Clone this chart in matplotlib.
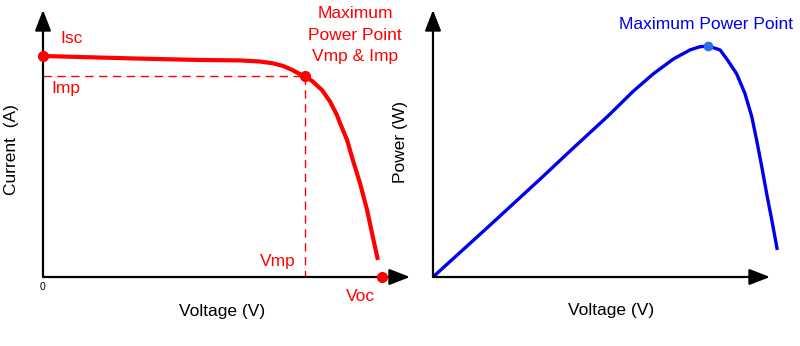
import matplotlib
matplotlib.use("Agg")
import matplotlib.pyplot as plt

plt.rcParams['font.family'] = ['Liberation Sans', 'DejaVu Sans']

# I-V curve (normalised: V/Voc, I/Isc)
iv_voltage = [0.0, 0.265, 0.463, 0.581, 0.640, 0.678, 0.708, 0.735, 0.758, 0.773, 0.796, 0.823,
              0.847, 0.867, 0.876, 0.897, 0.914, 0.935, 0.956, 0.973, 0.988]
iv_current = [1.0, 0.989, 0.982, 0.980, 0.975, 0.967, 0.955, 0.937, 0.918, 0.910, 0.884, 0.846,
              0.793, 0.733, 0.697, 0.620, 0.529, 0.425, 0.303, 0.181, 0.077]
isc_point = (0.0, 1.0)
mpp_point = (0.773, 0.910)
voc_point = (1.0, 0.0)

# P-V curve (normalised)
pv_voltage = [0.0, 0.157, 0.315, 0.397, 0.508, 0.581, 0.639, 0.697, 0.745, 0.774, 0.798, 0.832,
              0.851, 0.880, 0.904, 0.924, 0.938, 0.953, 0.967, 0.982, 0.998]
pv_power = [0.0, 0.213, 0.430, 0.545, 0.698, 0.805, 0.880, 0.944, 0.983, 0.997, 1.0, 0.983,
            0.945, 0.880, 0.795, 0.694, 0.593, 0.477, 0.362, 0.247, 0.117]
pv_mpp = (0.798, 1.0)

RED = '#ff0000'
BLUE = '#0000ee'
W, H = 800, 346
fig = plt.figure(figsize=(8, 3.46), dpi=100)

# ---------- Left panel ----------
axL = fig.add_axes([43 / W, 69 / H, 367 / W, 267 / H])
axL.set_xlim(0, 367 / 339)
axL.set_ylim(0, 267 / 221)
axL.axis('off')
arrow_kw = dict(arrowstyle='-|>,head_length=0.9,head_width=0.35', color='black', lw=1.6,
                shrinkA=0, shrinkB=0, mutation_scale=14)
axL.annotate('', xy=(367 / 339, 0), xytext=(0, 0), arrowprops=arrow_kw, annotation_clip=False)
axL.annotate('', xy=(0, 267 / 221), xytext=(0, 0), arrowprops=arrow_kw, annotation_clip=False)

axL.plot([0, mpp_point[0]], [mpp_point[1], mpp_point[1]], color=RED, lw=1.0,
         dashes=(6, 4), clip_on=False)
axL.plot([mpp_point[0], mpp_point[0]], [mpp_point[1], 0], color=RED, lw=1.0,
         dashes=(6, 4), clip_on=False)
axL.plot(iv_voltage, iv_current, color=RED, lw=3.0, solid_capstyle='butt',
         solid_joinstyle='round', clip_on=False)
axL.plot([isc_point[0], mpp_point[0], voc_point[0]], [isc_point[1], mpp_point[1], voc_point[1]],
         'o', color=RED, ms=7, clip_on=False, zorder=5)

fs = 12.5
axL.text(0.0855, 1.077, 'Isc', color=RED, fontsize=fs, ha='center', va='center')
axL.text(0.068, 0.851, 'Imp', color=RED, fontsize=fs, ha='center', va='center')
axL.text(0.693, 0.068, 'Vmp', color=RED, fontsize=fs, ha='center', va='center')
axL.text(0.938, -0.086, 'Voc', color=RED, fontsize=fs, ha='center', va='center')
axL.text(0.920, 1.095, 'Maximum\nPower Point\nVmp & Imp', color=RED, fontsize=fs,
         ha='center', va='center', linespacing=1.55)
axL.text(0.0, -0.045, '0', color='black', fontsize=7.5, ha='center', va='center')
axL.text(0.528, -0.154, 'Voltage (V)', color='black', fontsize=fs, ha='center', va='center')

fig.text(12 / W, 1 - 150 / H, 'Current  (A)', rotation=90, fontsize=fs, ha='center', va='center')
fig.text(400 / W, 1 - 142 / H, 'Power (W)', rotation=90, fontsize=fs, ha='center', va='center')

# ---------- Right panel ----------
axR = fig.add_axes([433 / W, 69 / H, 345 / W, 267 / H])
axR.set_xlim(0, 1)
axR.set_ylim(0, 267 / 231)
axR.axis('off')
axR.annotate('', xy=(337 / 345, 0), xytext=(0, 0), arrowprops=arrow_kw, annotation_clip=False)
axR.annotate('', xy=(0, 267 / 231), xytext=(0, 0), arrowprops=arrow_kw, annotation_clip=False)
axR.plot(pv_voltage, pv_power, color=BLUE, lw=2.4, solid_capstyle='butt',
         solid_joinstyle='round', clip_on=False)
axR.plot([pv_mpp[0]], [pv_mpp[1]], 'o', color='#2f6fe8', ms=6, clip_on=False, zorder=5)
axR.text(0.791, 1.091, 'Maximum Power Point', color=BLUE, fontsize=fs, ha='center', va='center')
axR.text(0.516, -0.147, 'Voltage (V)', color='black', fontsize=fs, ha='center', va='center')

fig.savefig('out.png', dpi=100, facecolor='white')
